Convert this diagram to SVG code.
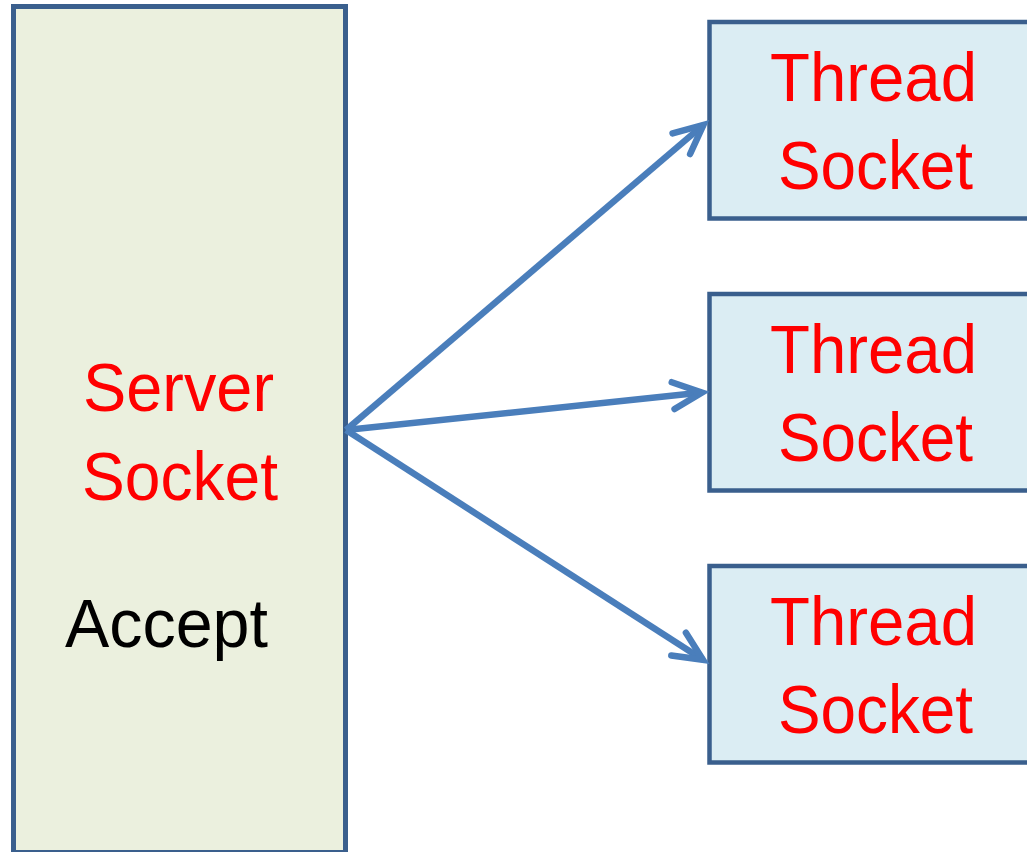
<svg xmlns="http://www.w3.org/2000/svg" width="1027" height="852" viewBox="0 0 1027 852">
  <style>
    .server { fill: #EBF0DE; stroke: #3A5F8D; stroke-width: 5; }
    .thread { fill: #DBEDF3; stroke: #3A5F8D; stroke-width: 4.5; }
    .lbl { font-family: "Liberation Sans", Arial, sans-serif; font-size: 69px; }
    .red { fill: #FF0000; }
    .blk { fill: #000000; }
    .conn { fill: none; stroke: #4A7EBB; stroke-width: 6.5; }
  </style>
  <defs>
    <marker id="head" markerUnits="userSpaceOnUse" markerWidth="60" markerHeight="60" viewBox="-40 -30 60 60" refX="0" refY="0" orient="auto" overflow="visible">
      <path d="M-29,-13.5 L0,0 L-29,13.5" fill="none" stroke="#4A7EBB" stroke-width="6.5" stroke-linecap="round" stroke-linejoin="miter"/>
    </marker>
  </defs>

  <g id="server-socket">
    <rect class="server" x="13.5" y="6.5" width="332" height="846"/>
    <text class="lbl red" x="83" y="411" textLength="191" lengthAdjust="spacingAndGlyphs">Server</text>
    <text class="lbl red" x="82" y="500" textLength="196" lengthAdjust="spacingAndGlyphs">Socket</text>
    <text class="lbl blk" x="65" y="647" textLength="203" lengthAdjust="spacingAndGlyphs">Accept</text>
  </g>

  <g id="thread-socket-1">
    <rect class="thread" x="709.5" y="22" width="330" height="196.5"/>
    <text class="lbl red" x="770" y="101" textLength="207" lengthAdjust="spacingAndGlyphs">Thread</text>
    <text class="lbl red" x="778" y="189" textLength="195" lengthAdjust="spacingAndGlyphs">Socket</text>
  </g>

  <g id="thread-socket-2">
    <rect class="thread" x="709.5" y="294" width="330" height="196.5"/>
    <text class="lbl red" x="770" y="373" textLength="207" lengthAdjust="spacingAndGlyphs">Thread</text>
    <text class="lbl red" x="778" y="461" textLength="195" lengthAdjust="spacingAndGlyphs">Socket</text>
  </g>

  <g id="thread-socket-3">
    <rect class="thread" x="709.5" y="566" width="330" height="196.5"/>
    <text class="lbl red" x="770" y="645" textLength="207" lengthAdjust="spacingAndGlyphs">Thread</text>
    <text class="lbl red" x="778" y="733" textLength="195" lengthAdjust="spacingAndGlyphs">Socket</text>
  </g>

  <g id="connectors">
    <path class="conn" d="M346,430 L703.4,124.9" marker-end="url(#head)"/>
    <path class="conn" d="M346,430 L702,392.6" marker-end="url(#head)"/>
    <path class="conn" d="M346,430 L703,659.8" marker-end="url(#head)"/>
  </g>
</svg>
